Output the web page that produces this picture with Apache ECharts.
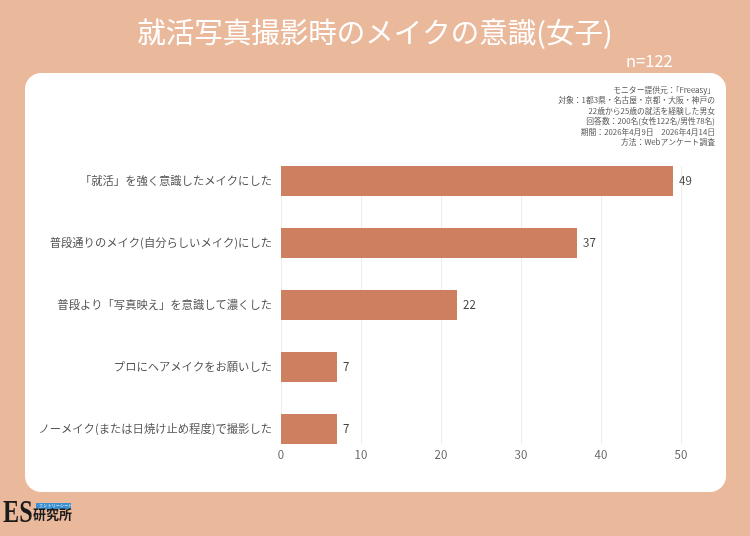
<!DOCTYPE html>
<html>
<head>
<meta charset="utf-8">
<script src="https://cdn.jsdelivr.net/npm/echarts@6/dist/echarts.min.js"></script>
<style>
  html, body { margin: 0; padding: 0; background: #eab99c; }
  #chart { width: 750px; height: 536px; }
</style>
</head>
<body>
<div id="chart"></div>
<script>
// 回答項目（上から順）
var categories = [
  '「就活」を強く意識したメイクにした',
  '普段通りのメイク(自分らしいメイク)にした',
  '普段より「写真映え」を意識して濃くした',
  'プロにヘアメイクをお願いした',
  'ノーメイク(または日焼け止め程度)で撮影した'
];
var values = [49, 37, 22, 7, 7];
var xTicks = [0, 10, 20, 30, 40, 50];

var titleText = '就活写真撮影時のメイクの意識(女子)';
var nText = 'n=122';
var noteLines = [
  'モニター提供元：「Freeasy」',
  '対象：1都3県・名古屋・京都・大阪・神戸の',
  '22歳から25歳の就活を経験した男女',
  '回答数：200名(女性122名/男性78名)',
  '期間：2026年4月9日　2026年4月14日',
  '方法：Webアンケート調査'
];

var font = '"Noto Sans CJK JP", "Noto Sans", sans-serif';
var barColor = '#cd7f5f';

var chart = echarts.init(document.getElementById('chart'));

// 注記（右揃え、1行ずつ）
var noteGraphics = noteLines.map(function (line, i) {
  return {
    type: 'text',
    x: 715,
    y: 90 + i * 10.5,
    style: {
      text: line,
      align: 'right',
      verticalAlign: 'middle',
      fill: '#555',
      font: '7.8px ' + font
    }
  };
});

var option = {
  backgroundColor: '#eab99c',
  animation: false,
  textStyle: { fontFamily: font },
  title: [
    {
      text: titleText,
      left: 'center',
      top: 13,
      textStyle: { color: '#fff', fontSize: 28.5, fontWeight: 'normal', fontFamily: font }
    },
    {
      text: nText,
      left: 621,
      top: 47,
      textStyle: { color: '#fff', fontSize: 16.5, fontWeight: 'normal', fontFamily: font }
    }
  ],
  graphic: [
    {
      type: 'rect',
      z: -10,
      shape: { x: 25, y: 73, width: 701, height: 419, r: 16 },
      style: { fill: '#fff' }
    },
    // ロゴ
    {
      type: 'text',
      x: 3,
      y: 498,
      scaleX: 0.78,
      style: { text: 'ES', fill: '#1a1a1a', font: 'bold 31px "Liberation Serif", serif' }
    },
    {
      type: 'rect',
      shape: { x: 36, y: 503, width: 35, height: 6 },
      style: { fill: '#3a8fd0' }
    },
    {
      type: 'text',
      x: 39,
      y: 503,
      style: { text: 'エントリーシート', fill: '#fff', font: '4.2px ' + font }
    },
    {
      type: 'text',
      x: 33,
      y: 508,
      style: { text: '研究所', fill: '#1a1a1a', font: 'bold 13px ' + font }
    }
  ].concat(noteGraphics),
  grid: [
    { left: 281, right: 69, top: 150, bottom: 76 },
    { left: 281, right: 69, top: 166, bottom: 92 }
  ],
  xAxis: [
    {
      gridIndex: 0,
      type: 'value',
      min: 0,
      max: 50,
      interval: 10,
      axisLine: { show: false },
      axisTick: { show: false },
      axisLabel: { show: false },
      splitLine: { show: false }
    },
    {
      gridIndex: 1,
      type: 'value',
      min: xTicks[0],
      max: xTicks[xTicks.length - 1],
      interval: 10,
      axisLine: { show: false },
      axisTick: { show: false },
      axisLabel: { color: '#666', fontSize: 11.5, margin: 5, fontFamily: font },
      splitLine: { lineStyle: { color: '#ececec', width: 1 } }
    }
  ],
  yAxis: [
    {
      gridIndex: 0,
      type: 'category',
      data: categories,
      inverse: true,
      axisLine: { show: false },
      axisTick: { show: false },
      axisLabel: { color: '#555', fontSize: 11.3, margin: 9, fontFamily: font }
    },
    {
      gridIndex: 1,
      type: 'category',
      data: categories,
      show: false
    }
  ],
  series: [
    {
      type: 'bar',
      xAxisIndex: 0,
      yAxisIndex: 0,
      data: values,
      barWidth: 30,
      itemStyle: { color: barColor },
      z: 3,
      label: {
        show: true,
        position: 'right',
        distance: 6,
        color: '#444',
        fontSize: 11.5,
        fontFamily: font
      }
    }
  ]
};

chart.setOption(option);
</script>
</body>
</html>
